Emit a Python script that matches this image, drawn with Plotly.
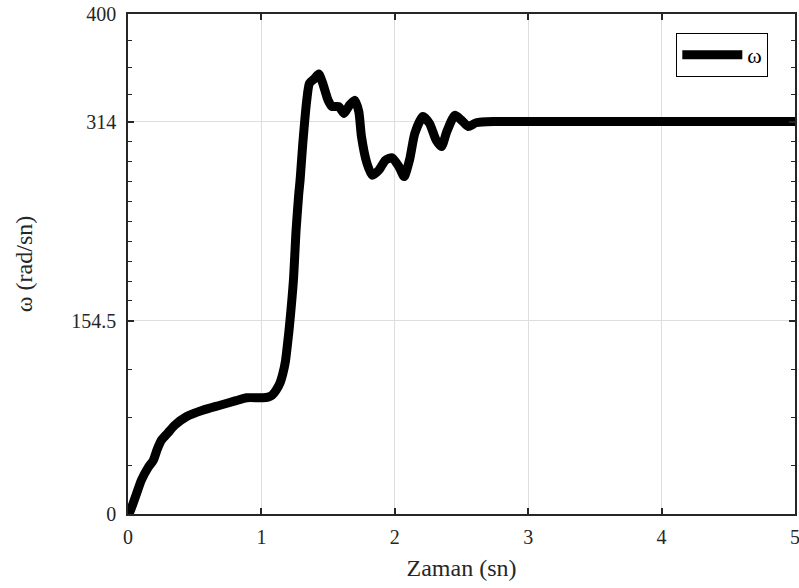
import plotly.graph_objects as go

# Time (s) and speed (rad/s)
t = [0.0, 0.015, 0.06, 0.10, 0.15, 0.19, 0.22, 0.25, 0.30, 0.35, 0.44, 0.56, 0.69, 0.81, 0.89,
     1.01, 1.05, 1.08, 1.11, 1.14, 1.16, 1.18, 1.20, 1.21, 1.24, 1.26, 1.28, 1.29, 1.31, 1.34,
     1.36, 1.40, 1.43, 1.46, 1.50, 1.53, 1.58, 1.62, 1.66, 1.70, 1.73, 1.75, 1.79, 1.83, 1.88,
     1.93, 1.98, 2.03, 2.07, 2.11, 2.15, 2.21, 2.26, 2.31, 2.35, 2.39, 2.45, 2.50, 2.55, 2.61,
     2.74, 3.0, 3.5, 4.0, 4.5, 5.0]
w = [0, 2, 15, 27, 37, 43, 52, 59, 65, 71, 78, 83, 87, 90.7, 93,
     93, 93.5, 95, 99, 105, 112, 122, 140, 150, 187, 227, 256, 267, 296, 331,
     344.5, 348.5, 352, 344.5, 331, 326, 326, 320.5, 327, 331, 322, 302, 281, 271, 275,
     283, 285, 278, 270, 283, 304.5, 318, 312.5, 299, 294, 306, 319, 315, 310, 313,
     314, 314, 314, 314, 314, 314]

x_ticks = [0, 1, 2, 3, 4, 5]
y_ticks = [0, 154.5, 314, 400]
y_tick_text = ["0", "154.5", "314", "400"]
y_minor = [38.625, 77.25, 115.875,
           170.45, 186.4, 202.35, 218.3, 234.25, 250.2, 266.15, 282.1, 298.05,
           335.5, 357, 378.5]

font = "Liberation Serif"
axis_color = "#262626"

fig = go.Figure()
fig.add_trace(go.Scatter(x=t, y=w, mode="lines", name="ω",
                         line=dict(color="black", width=9, shape="spline", smoothing=0.6)))
# empty helper trace so the minor-tick axis is drawn
fig.add_trace(go.Scatter(x=[None], y=[None], yaxis="y2", showlegend=False,
                         hoverinfo="skip", mode="lines"))

fig.update_layout(
    width=799, height=588,
    margin=dict(l=128, r=4, t=14, b=74),
    paper_bgcolor="white", plot_bgcolor="white",
    font=dict(family=font, size=20, color=axis_color),
    showlegend=True,
    legend=dict(x=0.96, y=0.962, xanchor="right", yanchor="top",
                bordercolor="black", borderwidth=1, bgcolor="white",
                font=dict(family=font, size=22, color="black"),
                itemwidth=60, tracegroupgap=0),
    xaxis=dict(range=[0, 5], tickvals=x_ticks, ticks="inside", ticklen=6, tickwidth=1.5,
               tickcolor=axis_color, showline=True, linecolor=axis_color, linewidth=1.5,
               mirror="ticks", showgrid=True, gridcolor="#dedede", gridwidth=1,
               zeroline=False, title=dict(text="Zaman (sn)", standoff=12),
               tickfont=dict(family=font, size=20), automargin=False,
               ticklabeloverflow="allow", ticklabelstandoff=4),
    yaxis=dict(range=[0, 400], tickvals=y_ticks, ticktext=y_tick_text, ticks="inside",
               ticklen=6, tickwidth=1.5, tickcolor=axis_color, showline=True,
               linecolor=axis_color, linewidth=1.5, mirror="ticks", showgrid=True,
               gridcolor="#dedede", gridwidth=1, zeroline=False,
               title=dict(text="ω (rad/sn)", standoff=32),
               tickfont=dict(family=font, size=20), automargin=False,
               ticklabeloverflow="allow", ticklabelstandoff=6),
    yaxis2=dict(range=[0, 400], overlaying="y", side="left", tickvals=y_minor,
                ticks="inside", ticklen=4, tickwidth=1.2, tickcolor=axis_color,
                showticklabels=False, showline=True, linecolor=axis_color, linewidth=1.5,
                mirror="ticks", showgrid=False, zeroline=False, automargin=False),
)

fig.write_html(
    "out.html",
    config={"displayModeBar": False},
    post_script="document.body.style.margin='0px';"
                "var gd=document.getElementById('{plot_id}');"
                "gd.style.width='799px';gd.style.height='588px';"
                "Plotly.relayout(gd,{width:799,height:588});",
)
